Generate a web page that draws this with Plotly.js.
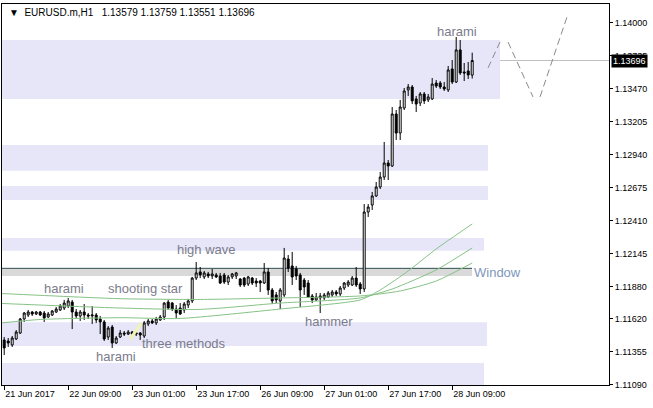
<!DOCTYPE html>
<html>
<head>
<meta charset="utf-8">
<script src="https://cdn.plot.ly/plotly-3.0.1.min.js"></script>
<style>html,body{margin:0;padding:0;background:#fff;}#chart{width:653px;height:408px;}</style>
</head>
<body>
<div id="chart"></div>
<script>
// ---- data (EURUSD.m, H1 bars) ----
const symbol = 'EURUSD.m,H1';
const timeLabels = ['21 Jun 2017','22 Jun 09:00','23 Jun 01:00','23 Jun 17:00','26 Jun 09:00','27 Jun 01:00','27 Jun 17:00','28 Jun 09:00'];
const timeLabelBars = [0,16,32,48,64,80,96,112];

const open = [
1.11449,1.11441,1.11409,1.11457,1.11505,1.11618,1.11650,1.11674,1.11658,1.11674,
1.11666,1.11634,1.11650,1.11674,1.11690,1.11706,1.11722,1.11754,1.11674,1.11642,
1.11674,1.11650,1.11642,1.11650,1.11618,1.11594,1.11473,1.11553,1.11425,1.11473,
1.11505,1.11497,1.11513,1.11497,1.11505,1.11481,1.11578,1.11602,1.11586,1.11610,
1.11634,1.11754,1.11746,1.11698,1.11706,1.11690,1.11730,1.11763,1.11947,1.11996,
1.11956,1.11980,1.11964,1.11972,1.11964,1.11972,1.11915,1.11956,1.11964,1.11939,
1.11947,1.11899,1.11947,1.11923,1.11923,1.11907,1.11996,1.11851,1.11811,1.11763,
1.11811,1.12100,1.12044,1.12020,1.11972,1.11931,1.11907,1.11803,1.11771,1.11803,
1.11787,1.11795,1.11811,1.11835,1.11819,1.11867,1.11891,1.11891,1.11947,1.11899,
1.11859,1.12478,1.12534,1.12607,1.12679,1.12759,1.12872,1.12848,1.13266,1.13113,
1.13314,1.13459,1.13483,1.13387,1.13354,1.13427,1.13379,1.13387,1.13515,1.13515,
1.13483,1.13459,1.13628,1.13523,1.13781,1.13604,1.13612,1.13579];
const high = [
1.11473,1.11465,1.11481,1.11529,1.11626,1.11674,1.11690,1.11682,1.11682,1.11682,
1.11682,1.11674,1.11690,1.11714,1.11738,1.11771,1.11787,1.11771,1.11698,1.11690,
1.11738,1.11666,1.11722,1.11666,1.11642,1.11610,1.11561,1.11570,1.11481,1.11529,
1.11521,1.11529,1.11521,1.11513,1.11513,1.11602,1.11618,1.11618,1.11634,1.11650,
1.11754,1.11771,1.11754,1.11730,1.11746,1.11754,1.11779,1.11956,1.12076,1.12036,
1.12004,1.11996,1.12020,1.11988,1.11988,1.11988,1.11972,1.11988,1.11996,1.11947,
1.11956,1.11964,1.11956,1.11947,1.11931,1.12068,1.12028,1.11867,1.11835,1.11867,
1.12189,1.12132,1.12157,1.12044,1.11988,1.11947,1.11931,1.11819,1.11827,1.11827,
1.11827,1.11843,1.11851,1.11851,1.11883,1.11915,1.11931,1.11964,1.12036,1.11915,
1.12542,1.12542,1.12639,1.12719,1.12800,1.13041,1.12896,1.13322,1.13298,1.13379,
1.13475,1.13507,1.13499,1.13411,1.13443,1.13443,1.13427,1.13555,1.13539,1.13531,
1.13523,1.13652,1.13700,1.13885,1.13861,1.13676,1.13684,1.13759];
const low = [
1.11328,1.11393,1.11393,1.11449,1.11497,1.11594,1.11634,1.11642,1.11650,1.11642,
1.11594,1.11626,1.11642,1.11666,1.11682,1.11690,1.11706,1.11537,1.11626,1.11602,
1.11610,1.11618,1.11578,1.11586,1.11497,1.11441,1.11449,1.11385,1.11417,1.11465,
1.11481,1.11489,1.11481,1.11481,1.11449,1.11465,1.11561,1.11578,1.11570,1.11602,
1.11610,1.11690,1.11682,1.11626,1.11650,1.11666,1.11706,1.11746,1.11931,1.11947,
1.11939,1.11947,1.11939,1.11947,1.11899,1.11899,1.11891,1.11939,1.11939,1.11875,
1.11875,1.11883,1.11891,1.11875,1.11835,1.11899,1.11811,1.11738,1.11746,1.11698,
1.11795,1.11996,1.11891,1.11931,1.11714,1.11811,1.11787,1.11746,1.11763,1.11666,
1.11771,1.11787,1.11795,1.11803,1.11803,1.11851,1.11875,1.11883,1.11875,1.11819,
1.11835,1.12438,1.12494,1.12599,1.12663,1.12735,1.12735,1.12840,1.13057,1.13057,
1.13298,1.13411,1.13346,1.13282,1.13330,1.13346,1.13362,1.13379,1.13475,1.13467,
1.13451,1.13443,1.13507,1.13515,1.13580,1.13531,1.13547,1.13551];
const close = [
1.11385,1.11425,1.11465,1.11513,1.11618,1.11666,1.11674,1.11658,1.11674,1.11650,
1.11626,1.11658,1.11682,1.11698,1.11722,1.11746,1.11763,1.11674,1.11642,1.11674,
1.11650,1.11642,1.11650,1.11610,1.11594,1.11457,1.11545,1.11425,1.11465,1.11505,
1.11497,1.11513,1.11497,1.11505,1.11489,1.11586,1.11602,1.11586,1.11618,1.11634,
1.11746,1.11706,1.11698,1.11666,1.11658,1.11738,1.11763,1.11947,1.11988,1.11972,
1.11988,1.11964,1.11980,1.11956,1.11907,1.11915,1.11956,1.11980,1.11988,1.11891,
1.11891,1.11956,1.11907,1.11907,1.11907,1.11996,1.11851,1.11763,1.11771,1.11851,
1.12108,1.12028,1.11956,1.11964,1.11851,1.11875,1.11795,1.11771,1.11795,1.11787,
1.11811,1.11827,1.11835,1.11819,1.11867,1.11907,1.11915,1.11947,1.11891,1.11859,
1.12478,1.12518,1.12607,1.12679,1.12759,1.12872,1.12848,1.13266,1.13113,1.13322,
1.13451,1.13483,1.13371,1.13346,1.13427,1.13371,1.13403,1.13507,1.13491,1.13483,
1.13467,1.13620,1.13523,1.13781,1.13596,1.13596,1.13580,1.13696];

// moving averages (read at a few bars)
const maFastBars = [-1,9,29,44,69,89,94,101,108,117];
const maFast     = [1.11585,1.11614,1.11628,1.11622,1.11698,1.11771,1.11851,1.12004,1.12181,1.12382];
const maMidBars  = [-1,29,49,69,89,97,108,117];
const maMid      = [1.11743,1.11706,1.11695,1.11746,1.11787,1.11859,1.12012,1.12189];
const maSlowBars = [-1,29,49,69,89,99,108,117];
const maSlow     = [1.11823,1.11781,1.11775,1.11787,1.11803,1.11843,1.11923,1.12068];

// support / resistance zones
const zoneLow  = [1.13387,1.12810,1.12575,1.12167,1.11401,1.11000];
const zoneHigh = [1.13861,1.13017,1.12687,1.12269,1.11591,1.11264];
const zoneEnd  = [123.95,120.95,120.95,119.95,120.7,119.95];
const windowLow = 1.11964, windowHigh = 1.12025, windowEnd = 116.95;

// projection zigzag (three dashed legs)
const projBars  = [120.95,123.95,null,125.95,132.2,null,133.95,140.95];
const projPrice = [1.13636,1.13845,null,1.13845,1.13403,null,1.13403,1.14070];

// three methods marker
const markBars  = [31.45,34.4];
const markPrice = [1.11457,1.11586];

// pattern labels
const patternText  = ['harami','shooting star','high wave','harami','three methods','hammer','harami'];
const patternBar   = [15.0,35.3,50.6,28.0,45.0,81.1,113.1];
const patternPrice = [1.11859,1.11859,1.12173,1.11316,1.11420,1.11594,1.13933];

const priceTicks = [1.14000,1.13735,1.13470,1.13205,1.12940,1.12675,1.12410,1.12145,1.11880,1.11620,1.11355,1.11090];

// ---- build ----
const n = close.length;
const bars = open.map((_, i) => i);
const last = n - 1;
const lastPrice = close[last];
const f5 = v => v.toFixed(5);

const maStyle = {color:'#86c286', width:1, shape:'spline', smoothing:0.6};
const traces = [
  {type:'scatter', mode:'lines', x:maSlowBars, y:maSlow, line:maStyle, hoverinfo:'skip'},
  {type:'scatter', mode:'lines', x:maMidBars, y:maMid, line:maStyle, hoverinfo:'skip'},
  {type:'scatter', mode:'lines', x:maFastBars, y:maFast, line:maStyle, hoverinfo:'skip'},
  {type:'scatter', mode:'lines', x:markBars, y:markPrice, line:{color:'#f2f2b4', width:3}, hoverinfo:'skip'},
  {type:'scatter', mode:'lines', x:projBars, y:projPrice, connectgaps:false, line:{color:'#8a8a8a', width:1, dash:'7px,4px'}, hoverinfo:'skip'},
  {type:'candlestick', x:bars, open:open, high:high, low:low, close:close,
   increasing:{line:{color:'#000000', width:1}, fillcolor:'#ffffff'},
   decreasing:{line:{color:'#000000', width:1}, fillcolor:'#000000'},
   whiskerwidth:0, hoverinfo:'skip'}
];

const shapes = [];
zoneLow.forEach((lo, k) => {
  shapes.push({type:'rect', layer:'below', xref:'x', yref:'y', x0:-5, x1:zoneEnd[k], y0:lo, y1:zoneHigh[k],
               fillcolor:'#e6e6f8', line:{width:0}});
});
shapes.push({type:'rect', layer:'below', xref:'x', yref:'y', x0:-5, x1:windowEnd, y0:windowLow, y1:windowHigh,
             fillcolor:'#d9d9d9', line:{width:0}});
shapes.push({type:'line', layer:'below', xref:'x', yref:'y', x0:-5, x1:windowEnd, y0:windowHigh, y1:windowHigh,
             line:{color:'#2f4f4f', width:1}});
shapes.push({type:'line', layer:'below', xref:'paper', yref:'y', x0:0, x1:1, y0:lastPrice, y1:lastPrice,
             line:{color:'#c0c0c0', width:1}});

const annotations = patternText.map((t, k) => ({
  x:patternBar[k], y:patternPrice[k], xref:'x', yref:'y', text:t, showarrow:false,
  xanchor:'center', yanchor:'middle', font:{family:'Liberation Sans, Arial, sans-serif', size:13, color:'#7b7b8c'}
}));
annotations.push({x:windowEnd+0.1, y:(windowLow+windowHigh)/2, xref:'x', yref:'y', text:'Window', showarrow:false,
  xanchor:'left', yanchor:'middle', font:{family:'Liberation Sans, Arial, sans-serif', size:13, color:'#8097bb'}});
annotations.push({xref:'paper', yref:'paper', x:0.008, y:0.979, xanchor:'left', yanchor:'middle', showarrow:false,
  text:'\u25BC\u00A0\u00A0' + symbol + '\u00A0\u00A0\u00A0' + [open[last],high[last],low[last],close[last]].map(f5).join('\u00A0'),
  font:{family:'Liberation Sans, Arial, sans-serif', size:10, color:'#000000'}});
annotations.push({xref:'paper', yref:'y', x:1, y:lastPrice, xanchor:'left', yanchor:'middle', showarrow:false, xshift:2,
  text:f5(lastPrice), bgcolor:'#000000', borderpad:1,
  font:{family:'Liberation Sans, Arial, sans-serif', size:9, color:'#ffffff'}});

const layout = {
  width:653, height:408,
  margin:{l:2, r:44, t:4, b:23, pad:0},
  paper_bgcolor:'#ffffff', plot_bgcolor:'#ffffff',
  showlegend:false, hovermode:false,
  xaxis:{range:[-0.55,151.2], showgrid:false, zeroline:false, showline:true, mirror:true,
         linecolor:'#000000', linewidth:1, ticks:'outside', ticklen:4, tickcolor:'#000000',
         tickvals:timeLabelBars, ticktext:timeLabels, ticklabelposition:'outside right',
         tickfont:{family:'Liberation Sans, Arial, sans-serif', size:9, color:'#000000'},
         rangeslider:{visible:false}, fixedrange:true},
  yaxis:{range:[1.110871,1.141503], side:'right', showgrid:false, zeroline:false, showline:true, mirror:true,
         linecolor:'#000000', linewidth:1, ticks:'outside', ticklen:3, tickcolor:'#000000',
         tickvals:priceTicks, ticktext:priceTicks.map(f5),
         tickfont:{family:'Liberation Sans, Arial, sans-serif', size:9, color:'#000000'}, fixedrange:true},
  shapes:shapes, annotations:annotations
};

Plotly.newPlot('chart', traces, layout, {staticPlot:true, displayModeBar:false});
</script>
</body>
</html>
